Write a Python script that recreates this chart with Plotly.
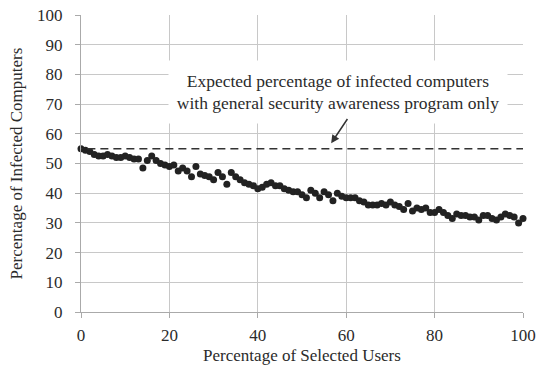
import plotly.graph_objects as go

x_vals = list(range(0, 101))
y_vals = [55, 54.5, 54, 53, 52.5, 52.5, 53, 52.5, 52, 52, 52.5, 52, 51.5, 51.5,
          48.5, 51, 52.5, 51, 50, 49.5, 49, 49.5, 47.5, 48.5, 47.5, 45.5, 49, 46.5,
          46, 45.5, 44.5, 47, 45.5, 43, 47, 45.5, 44.5, 43.5, 43, 42.5, 41.5, 42,
          43, 43.5, 42.5, 42.5, 41.5, 41, 40.5, 40.5, 39.5, 38.5, 41, 40, 38.5, 40.5,
          39.5, 37.5, 40, 39, 38.5, 38.5, 38.5, 37.5, 37, 36, 36, 36, 36.5, 36, 37,
          36, 35.5, 34.5, 36.5, 34, 35, 34.5, 35, 33.5, 33.5, 34.5, 33.5, 32.5, 31.5,
          33, 32.5, 32.5, 32, 32, 31, 32.5, 32.5, 31.5, 31, 32, 33, 32.5, 32, 30, 31.5]
baseline = 55
x_ticks = [0, 20, 40, 60, 80, 100]
y_ticks = list(range(0, 101, 10))
annotation_text = "Expected percentage of infected computers<br>with general security awareness program only"

font_family = "Liberation Serif, Times New Roman, serif"
text_color = "#2b2b2b"

fig = go.Figure()
fig.add_trace(go.Scatter(
    x=x_vals, y=y_vals, mode="markers",
    marker=dict(size=7, color="#222222"),
    cliponaxis=False, showlegend=False, hoverinfo="skip"))

fig.add_shape(type="line", xref="x", yref="y", x0=-1.5, x1=100, y0=baseline, y1=baseline,
              line=dict(color="#333333", width=1.5, dash="8px,5px"))

fig.add_annotation(x=58.1, y=74.2, xref="x", yref="y", text=annotation_text,
                   showarrow=False, font=dict(family=font_family, size=17.5, color=text_color),
                   align="center", bgcolor="white", width=334, height=58, borderpad=2,
                   valign="middle")
fig.add_annotation(x=56.6, y=56.8, ax=60.5, ay=65.5, xref="x", yref="y", axref="x", ayref="y",
                   text="", showarrow=True, arrowhead=2, arrowsize=1.1, arrowwidth=1.5,
                   arrowcolor="#333333")

fig.update_layout(
    width=536, height=368,
    margin=dict(l=81, r=13, t=15, b=56),
    paper_bgcolor="white", plot_bgcolor="white",
    font=dict(family=font_family, size=17, color=text_color),
    xaxis=dict(range=[0, 100], tickvals=x_ticks, showgrid=True, gridcolor="#c8c8c8",
               gridwidth=1.2, zeroline=False, showline=True, linecolor="#aaaaaa",
               ticks="outside", ticklen=5, tickcolor="#aaaaaa", automargin=False,
               ticklabelstandoff=3,
               title=dict(text="Percentage of Selected Users", font=dict(size=17), standoff=4),
               tickfont=dict(size=17)),
    yaxis=dict(range=[0, 100], tickvals=y_ticks, showgrid=True, gridcolor="#c8c8c8",
               gridwidth=1.2, zeroline=False, showline=True, linecolor="#aaaaaa",
               ticks="outside", ticklen=5, tickcolor="#aaaaaa", automargin=False,
               ticklabelstandoff=9,
               title=dict(text="Percentage of Infected Computers", font=dict(size=17), standoff=10),
               tickfont=dict(size=17)),
)

fig.write_html("out.html")
